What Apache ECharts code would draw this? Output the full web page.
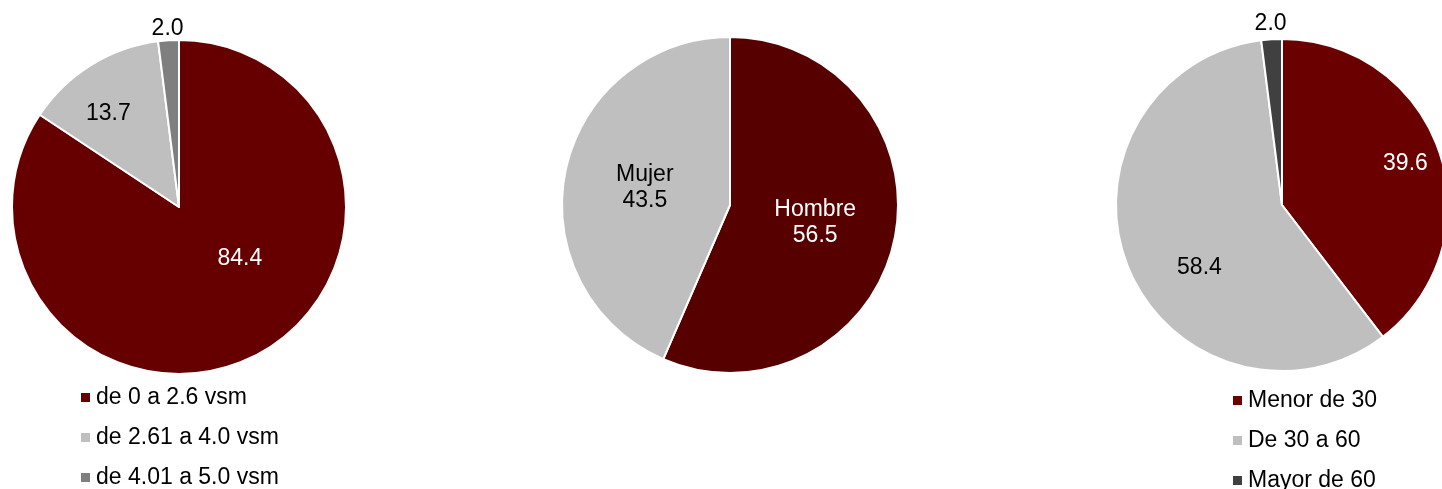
<!DOCTYPE html>
<html>
<head>
<meta charset="utf-8">
<script src="https://cdn.jsdelivr.net/npm/echarts@6/dist/echarts.min.js"></script>
<style>
html,body{margin:0;padding:0;background:#fff;}
#chart{width:1442px;height:489px;}
</style>
</head>
<body>
<div id="chart"></div>
<script>
// Pie 1: salary ranges
var salaryCats = ['de 0 a 2.6 vsm', 'de 2.61 a 4.0 vsm', 'de 4.01 a 5.0 vsm'];
var salaryVals = [84.4, 13.7, 2.0];
// Pie 2: sex
var sexCats = ['Hombre', 'Mujer'];
var sexVals = [56.5, 43.5];
// Pie 3: age
var ageCats = ['Menor de 30', 'De 30 a 60', 'Mayor de 60'];
var ageVals = [39.6, 58.4, 2.0];

var FONT = '"Liberation Sans", Arial, sans-serif';
var colors1 = ['#660000', '#bfbfbf', '#7f7f7f'];
var colors2 = ['#560000', '#bfbfbf'];
var colors3 = ['#6a0000', '#bfbfbf', '#404040'];
var labelColors1 = ['#ffffff', '#000000', '#000000'];
var labelColors2 = ['#ffffff', '#000000'];
var labelColors3 = ['#ffffff', '#000000', '#000000'];
// label nudges relative to library's inside position
var nudge1 = [[20, -25], [-25, -20], [-6, -92]];
var nudge3 = [[42, -14], [-3, 30], [-6, -96]];

function mkData(cats, vals, cols, lcols) {
  return cats.map(function (c, i) {
    return {
      name: c, value: vals[i],
      itemStyle: { color: cols[i] },
      label: { color: lcols[i] }
    };
  });
}

function baseSeries(center, radius, data, fmt, nudge) {
  var s = {
    type: 'pie',
    center: center,
    radius: radius,
    startAngle: 90,
    clockwise: true,
    avoidLabelOverlap: false,
    animation: false,
    itemStyle: { borderColor: '#ffffff', borderWidth: 2 },
    label: {
      show: true, position: 'inside',
      fontFamily: FONT, fontSize: 23, lineHeight: 26,
      formatter: fmt
    },
    labelLine: { show: false },
    emphasis: { disabled: true },
    data: data
  };
  if (nudge) {
    s.labelLayout = function (p) {
      var o = nudge[p.dataIndex];
      return { dx: o[0], dy: o[1] };
    };
  }
  return s;
}

var legendStyle = {
  orient: 'vertical',
  icon: 'rect',
  padding: 0,
  itemWidth: 11, itemHeight: 11,
  itemGap: 17,
  height: 200,
  textStyle: { fontFamily: FONT, fontSize: 23, color: '#000' },
  selectedMode: false
};

var chart = echarts.init(document.getElementById('chart'), null, { renderer: 'canvas' });
chart.setOption({
  backgroundColor: '#ffffff',
  legend: [
    Object.assign({ left: 79, top: 386, data: salaryCats }, legendStyle),
    Object.assign({ left: 1231, top: 389, data: ageCats }, legendStyle)
  ],
  series: [
    baseSeries([179, 207], 167, mkData(salaryCats, salaryVals, colors1, labelColors1),
      function (p) { return p.value.toFixed(1); }, nudge1),
    baseSeries([730, 205], 168, mkData(sexCats, sexVals, colors2, labelColors2),
      function (p) { return p.name + '\n' + p.value.toFixed(1); }, null),
    baseSeries([1282, 205], 166, mkData(ageCats, ageVals, colors3, labelColors3),
      function (p) { return p.value.toFixed(1); }, nudge3)
  ]
});
</script>
</body>
</html>
